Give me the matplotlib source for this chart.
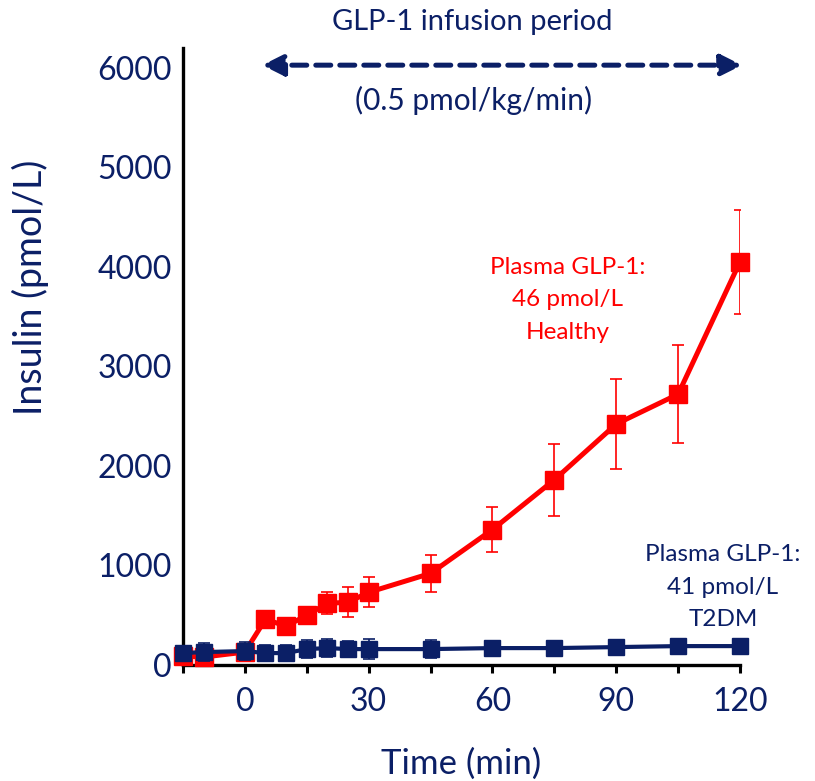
import numpy as np
import matplotlib
matplotlib.use("Agg")
import matplotlib.pyplot as plt

# time points (min)
time = [-15, -10, 0, 5, 10, 15, 20, 25, 30, 45, 60, 75, 90, 105, 120]

# insulin, healthy subjects (pmol/L) and SEM
healthy = [90, 80, 130, 460, 390, 500, 620, 630, 730, 920, 1360, 1860, 2420, 2720, 4050]
healthy_err = [20, 20, 30, 40, 40, 50, 110, 150, 150, 185, 230, 360, 450, 490, 520]

# insulin, T2DM subjects (pmol/L) and SEM
t2dm = [120, 130, 140, 120, 120, 160, 170, 160, 160, 160, 170, 170, 180, 190, 190]
t2dm_err = [40, 90, 90, 80, 80, 90, 90, 80, 100, 90, 70, 40, 40, 40, 40]

x_ticks = [-15, 0, 15, 30, 45, 60, 75, 90, 105, 120]
x_labels = ["", "0", "", "30", "", "60", "", "90", "", "120"]
y_ticks = [0, 1000, 2000, 3000, 4000, 5000, 6000]

navy = "#0b1f66"
red = "#ff0000"

plt.rcParams["font.family"] = ["Lato", "DejaVu Sans"]

fig = plt.figure(figsize=(8.15, 7.81), dpi=100)
ax = fig.add_axes([0.2245, 0.1485, 0.6835, 0.7905])

# healthy
ax.errorbar(time, healthy, yerr=healthy_err, fmt="none", ecolor=red,
            elinewidth=1.2, capsize=4, capthick=1.2, zorder=2)
ax.plot(time, healthy, color=red, lw=3.6, marker="s", ms=13,
        mec=red, mfc=red, zorder=3, clip_on=False)

# T2DM
ax.errorbar(time, t2dm, yerr=t2dm_err, fmt="none", ecolor=navy,
            elinewidth=1.2, capsize=4, capthick=1.2, zorder=4)
ax.plot(time, t2dm, color=navy, lw=3.0, marker="s", ms=11.5,
        mec=navy, mfc=navy, zorder=5, clip_on=False)

ax.set_xlim(-15, 120)
ax.set_ylim(0, 6200)
ax.set_xticks(x_ticks)
ax.set_xticklabels(x_labels)
ax.set_yticks(y_ticks)

for side in ["top", "right"]:
    ax.spines[side].set_visible(False)
for side in ["left", "bottom"]:
    ax.spines[side].set_linewidth(2.4)
    ax.spines[side].set_color("black")

ax.tick_params(axis="x", direction="out", length=6, width=2.2,
               labelsize=23, labelcolor=navy, pad=10)
ax.tick_params(axis="y", length=0, labelsize=23, labelcolor=navy, pad=8)

ax.set_xlabel("Time (min)", fontsize=25, color=navy, labelpad=22)
fig.text(30 / 815, 1 - 287 / 781, "Insulin (pmol/L)", fontsize=27,
         color=navy, rotation=90, ha="center", va="center")

# infusion period arrow
ax.annotate("", xy=(120.5, 6024), xytext=(4.2, 6024),
            arrowprops=dict(arrowstyle="<|-|>", color=navy, lw=3.6,
                            linestyle=(0, (3, 1.8)), mutation_scale=32,
                            shrinkA=0, shrinkB=0),
            annotation_clip=False)
fig.text(472 / 815, 1 - 22 / 781, "GLP-1 infusion period", color=navy,
         fontsize=21, ha="center", va="center")
fig.text(474 / 815, 1 - 100 / 781, "(0.5 pmol/kg/min)", color=navy,
         fontsize=21.5, ha="center", va="center")

fig.text(568 / 815, 1 - 300 / 781, "Plasma GLP-1:\n46 pmol/L\nHealthy",
         color=red, fontsize=17.5, ha="center", va="center", linespacing=1.7)
fig.text(723 / 815, 1 - 587 / 781, "Plasma GLP-1:\n41 pmol/L\nT2DM",
         color=navy, fontsize=17.5, ha="center", va="center", linespacing=1.7)

fig.savefig("out.png", dpi=100)
